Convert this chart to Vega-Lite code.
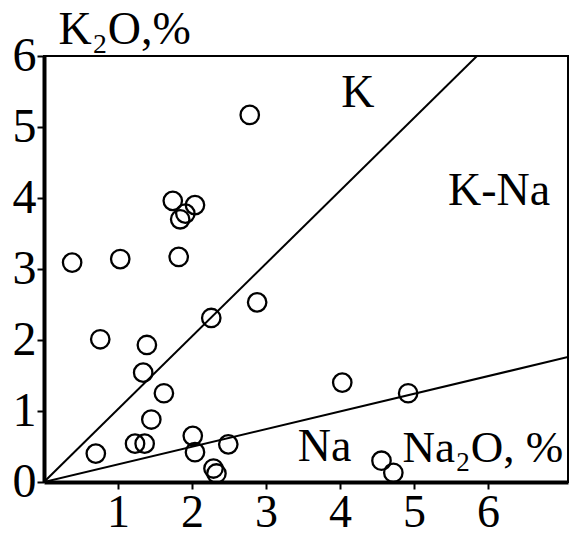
{
  "$schema": "https://vega.github.io/schema/vega-lite/v6.json",
  "width": 524,
  "height": 426,
  "autosize": "none",
  "padding": {"left": 44, "top": 56, "right": 3, "bottom": 55},
  "background": "white",
  "config": {
    "view": {"stroke": "black", "strokeWidth": 2},
    "font": "Liberation Serif"
  },
  "datasets": {
    "points": [
      {"na2o": 0.38, "k2o": 3.09},
      {"na2o": 1.03, "k2o": 3.14},
      {"na2o": 0.76, "k2o": 2.01},
      {"na2o": 0.70, "k2o": 0.40},
      {"na2o": 1.74, "k2o": 3.96},
      {"na2o": 1.84, "k2o": 3.70},
      {"na2o": 1.91, "k2o": 3.78},
      {"na2o": 2.04, "k2o": 3.90},
      {"na2o": 1.82, "k2o": 3.17},
      {"na2o": 2.78, "k2o": 5.17},
      {"na2o": 1.39, "k2o": 1.93},
      {"na2o": 1.34, "k2o": 1.54},
      {"na2o": 1.62, "k2o": 1.25},
      {"na2o": 1.45, "k2o": 0.88},
      {"na2o": 1.23, "k2o": 0.54},
      {"na2o": 1.36, "k2o": 0.54},
      {"na2o": 2.01, "k2o": 0.65},
      {"na2o": 2.04, "k2o": 0.42},
      {"na2o": 2.49, "k2o": 0.53},
      {"na2o": 2.29, "k2o": 0.19},
      {"na2o": 2.33, "k2o": 0.12},
      {"na2o": 2.26, "k2o": 2.31},
      {"na2o": 2.88, "k2o": 2.53},
      {"na2o": 4.03, "k2o": 1.40},
      {"na2o": 4.92, "k2o": 1.25},
      {"na2o": 4.56, "k2o": 0.30},
      {"na2o": 4.72, "k2o": 0.13}
    ],
    "lines": [
      {"line": "K", "na2o": 0, "k2o": 0},
      {"line": "K", "na2o": 5.85, "k2o": 6},
      {"line": "Na", "na2o": 0, "k2o": 0},
      {"line": "Na", "na2o": 7.08, "k2o": 1.76}
    ],
    "labels": [
      {"label": "K", "na2o": 4.24, "k2o": 5.28},
      {"label": "K-Na", "na2o": 6.15, "k2o": 3.9},
      {"label": "Na", "na2o": 3.79, "k2o": 0.30}
    ]
  },
  "encoding": {
    "x": {
      "field": "na2o",
      "type": "quantitative",
      "scale": {"domain": [0, 7.08], "nice": false, "zero": false},
      "axis": {
        "values": [1, 2, 3, 4, 5, 6],
        "format": "d",
        "grid": false,
        "domainColor": "black",
        "domainWidth": 4,
        "tickColor": "black",
        "tickWidth": 2,
        "tickSize": 7,
        "labelFont": "Liberation Serif",
        "labelFontSize": 46,
        "labelColor": "black",
        "labelPadding": 1,
        "title": "Na₂O, %",
        "titleFont": "Liberation Serif",
        "titleFontSize": 45,
        "titleFontWeight": "normal",
        "titleColor": "black",
        "titleAlign": "left",
        "titleBaseline": "alphabetic",
        "titleAnchor": null,
        "titleX": 358,
        "titleY": -21
      }
    },
    "y": {
      "field": "k2o",
      "type": "quantitative",
      "scale": {"domain": [0, 6], "nice": false, "zero": false},
      "axis": {
        "values": [0, 1, 2, 3, 4, 5, 6],
        "format": "d",
        "grid": false,
        "domainColor": "black",
        "domainWidth": 4,
        "tickColor": "black",
        "tickWidth": 2,
        "tickSize": 7,
        "labelFont": "Liberation Serif",
        "labelFontSize": 48,
        "labelColor": "black",
        "labelPadding": 1,
        "title": "K₂O,%",
        "titleFont": "Liberation Serif",
        "titleFontSize": 46,
        "titleFontWeight": "normal",
        "titleColor": "black",
        "titleAngle": 0,
        "titleAlign": "left",
        "titleBaseline": "alphabetic",
        "titleAnchor": null,
        "titleX": 14,
        "titleY": -13
      }
    }
  },
  "layer": [
    {
      "data": {"name": "lines"},
      "mark": {"type": "line", "color": "black", "strokeWidth": 2, "clip": true},
      "encoding": {"detail": {"field": "line"}}
    },
    {
      "data": {"name": "points"},
      "mark": {"type": "point", "shape": "circle", "filled": false, "stroke": "black", "strokeWidth": 2.3, "size": 340, "opacity": 1},
      "encoding": {}
    },
    {
      "data": {"name": "labels"},
      "mark": {"type": "text", "font": "Liberation Serif", "fontSize": 46, "color": "black", "align": "center", "baseline": "alphabetic"},
      "encoding": {"text": {"field": "label"}}
    },
    {
      "data": {"values": [{}]},
      "mark": {"type": "rule", "color": "black", "strokeWidth": 4},
      "encoding": {"y": {"datum": 6}, "x": null}
    }
  ]
}
